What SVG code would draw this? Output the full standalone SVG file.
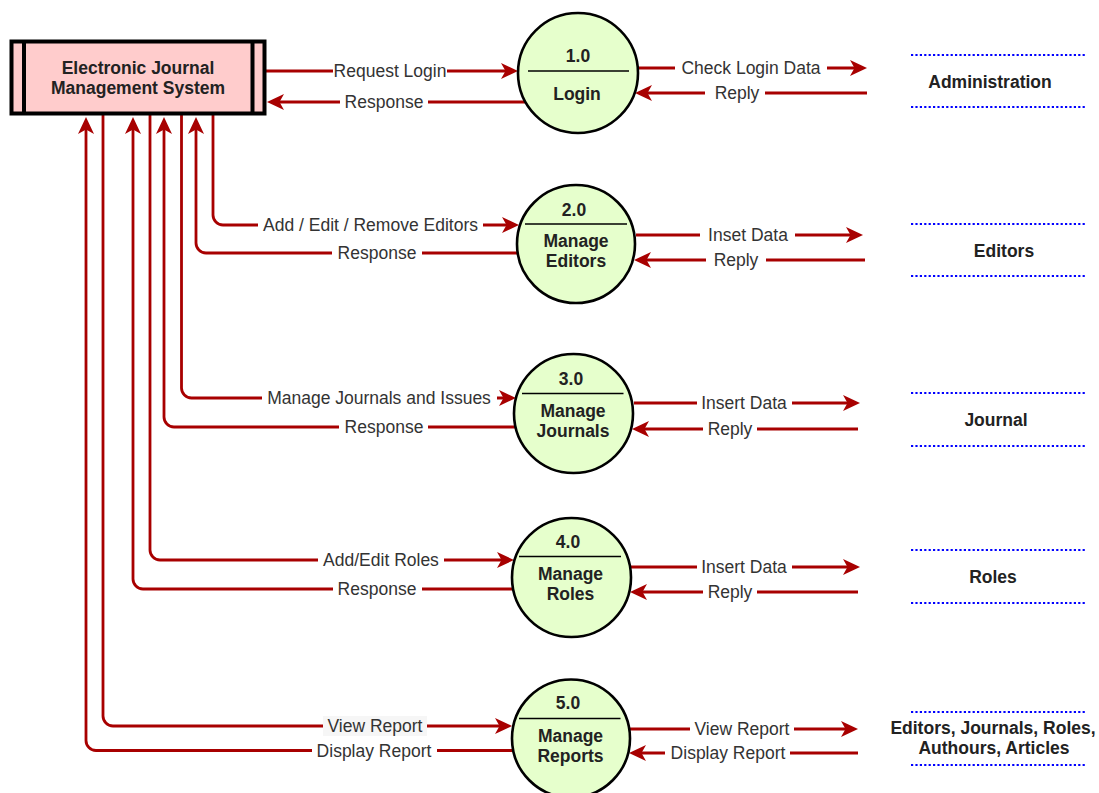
<svg xmlns="http://www.w3.org/2000/svg" width="1099" height="793" viewBox="0 0 1099 793">
  <style>
    .flow { fill: none; stroke: #a80000; stroke-width: 2.8; }
    .arrow { marker-end: url(#arr); }
    .bg { fill: #ffffff; }
    .lbl { font-family: "Liberation Sans", Arial, Helvetica, sans-serif; font-size: 17.5px; fill: #333333; text-anchor: middle; }
    .nt { font-family: "Liberation Sans", Arial, Helvetica, sans-serif; font-size: 17.5px; font-weight: bold; fill: #222222; text-anchor: middle; }
    .proc { fill: #e6ffcc; stroke: #000000; stroke-width: 2.6; }
    .div { stroke: #000000; stroke-width: 1.6; }
    .store { stroke: #0000ff; stroke-width: 2.2; stroke-dasharray: 2.2 2.2; fill: none; }
  </style>
  <defs>
    <marker id="arr" markerUnits="userSpaceOnUse" markerWidth="18" markerHeight="18" viewBox="0 0 18 18" refX="9" refY="8" orient="auto" overflow="visible">
      <path d="M0,0 L17,8 L0,16 L4.5,8 Z" fill="#a80000"/>
    </marker>
  </defs>

  <rect width="1099" height="793" fill="#ffffff"/>

  <!-- data flows -->
  <g id="connectors">
    <!-- 1.0 Login -->
    <path class="flow arrow" d="M266,71 H510"/>
    <path class="flow arrow" d="M525,102 H275"/>
    <path class="flow arrow" d="M637,68 H859"/>
    <path class="flow arrow" d="M867,93 H643"/>
    <!-- 2.0 Manage Editors -->
    <path class="flow arrow" d="M213,114 V215 A10,10 0 0 0 223,225 H511"/>
    <path class="flow arrow" d="M517,253 H206 A10,10 0 0 1 196,243 V125"/>
    <path class="flow arrow" d="M636,235 H855"/>
    <path class="flow arrow" d="M865,260 H642"/>
    <!-- 3.0 Manage Journals -->
    <path class="flow arrow" d="M181.5,114 V388 A10,10 0 0 0 191.5,398 H508"/>
    <path class="flow arrow" d="M516,427 H174 A10,10 0 0 1 164,417 V125"/>
    <path class="flow arrow" d="M634,403 H852"/>
    <path class="flow arrow" d="M858,429 H640"/>
    <!-- 4.0 Manage Roles -->
    <path class="flow arrow" d="M150,114 V550 A10,10 0 0 0 160,560 H506"/>
    <path class="flow arrow" d="M513,589 H143 A10,10 0 0 1 133,579 V125"/>
    <path class="flow arrow" d="M631,567 H852"/>
    <path class="flow arrow" d="M858,592 H638"/>
    <!-- 5.0 Manage Reports -->
    <path class="flow arrow" d="M103,114 V716 A10,10 0 0 0 113,726 H504"/>
    <path class="flow arrow" d="M512,750.5 H96 A10,10 0 0 1 86,740.5 V125"/>
    <path class="flow arrow" d="M630,729 H850"/>
    <path class="flow arrow" d="M858,753 H637"/>

    <!-- flow labels -->
    <rect class="bg" x="333" y="62" width="114" height="18"/>
    <text class="lbl" x="390" y="77">Request Login</text>
    <rect class="bg" x="340" y="93" width="88" height="18"/>
    <text class="lbl" x="384" y="108">Response</text>
    <rect class="bg" x="675" y="59" width="152" height="18"/>
    <text class="lbl" x="751" y="74">Check Login Data</text>
    <rect class="bg" x="705" y="84" width="60" height="18"/>
    <text class="lbl" x="737" y="99">Reply</text>

    <rect class="bg" x="258" y="216" width="225" height="18"/>
    <text class="lbl" x="370.5" y="231">Add / Edit / Remove Editors</text>
    <rect class="bg" x="332" y="244" width="90" height="18"/>
    <text class="lbl" x="377" y="259">Response</text>
    <rect class="bg" x="700" y="226" width="95" height="18"/>
    <text class="lbl" x="748" y="241">Inset Data</text>
    <rect class="bg" x="706" y="251" width="60" height="18"/>
    <text class="lbl" x="736" y="266">Reply</text>

    <rect class="bg" x="262" y="389" width="235" height="18"/>
    <text class="lbl" x="379" y="404">Manage Journals and Issues</text>
    <rect class="bg" x="339" y="418" width="89" height="18"/>
    <text class="lbl" x="384" y="433">Response</text>
    <rect class="bg" x="697" y="394" width="95" height="18"/>
    <text class="lbl" x="744" y="409">Insert Data</text>
    <rect class="bg" x="703" y="420" width="54" height="18"/>
    <text class="lbl" x="730" y="435">Reply</text>

    <rect class="bg" x="318" y="551" width="126" height="18"/>
    <text class="lbl" x="381" y="566">Add/Edit Roles</text>
    <rect class="bg" x="333" y="580" width="89" height="18"/>
    <text class="lbl" x="377" y="595">Response</text>
    <rect class="bg" x="697" y="558" width="95" height="18"/>
    <text class="lbl" x="744" y="573">Insert Data</text>
    <rect class="bg" x="703" y="583" width="54" height="18"/>
    <text class="lbl" x="730" y="598">Reply</text>

    <rect x="323" y="716" width="104" height="20" fill="#f6f6f6"/>
    <text class="lbl" x="375" y="732">View Report</text>
    <rect class="bg" x="312" y="741.5" width="125" height="18"/>
    <text class="lbl" x="374" y="756.5">Display Report</text>
    <rect class="bg" x="690" y="720" width="104" height="18"/>
    <text class="lbl" x="742" y="735">View Report</text>
    <rect class="bg" x="665" y="744" width="125" height="18"/>
    <text class="lbl" x="728" y="759">Display Report</text>
  </g>

  <!-- external entity -->
  <g id="ejms">
    <rect x="11.5" y="41.5" width="253" height="72" fill="#ffcccc" stroke="#000000" stroke-width="4"/>
    <line x1="24" y1="41.5" x2="24" y2="113.5" stroke="#000000" stroke-width="4"/>
    <line x1="252.5" y1="41.5" x2="252.5" y2="113.5" stroke="#000000" stroke-width="4"/>
    <text class="nt" x="138" y="74">Electronic Journal</text>
    <text class="nt" x="138" y="94">Management System</text>
  </g>

  <!-- processes -->
  <g id="p1">
    <circle class="proc" cx="578" cy="73" r="60"/>
    <line class="div" x1="528" y1="71" x2="629" y2="71"/>
    <text class="nt" x="578" y="62">1.0</text>
    <text class="nt" x="577" y="100">Login</text>
  </g>
  <g id="p2">
    <circle class="proc" cx="576" cy="244" r="59"/>
    <line class="div" x1="525" y1="224" x2="627" y2="224"/>
    <text class="nt" x="574" y="216">2.0</text>
    <text class="nt" x="576" y="247">Manage</text>
    <text class="nt" x="576" y="267">Editors</text>
  </g>
  <g id="p3">
    <circle class="proc" cx="573.5" cy="413.5" r="59.5"/>
    <line class="div" x1="522" y1="393.5" x2="623.5" y2="393.5"/>
    <text class="nt" x="571" y="385">3.0</text>
    <text class="nt" x="573" y="417">Manage</text>
    <text class="nt" x="573" y="437">Journals</text>
  </g>
  <g id="p4">
    <circle class="proc" cx="571.5" cy="577.5" r="59.5"/>
    <line class="div" x1="519" y1="556.5" x2="621" y2="556.5"/>
    <text class="nt" x="568" y="548">4.0</text>
    <text class="nt" x="570.5" y="580">Manage</text>
    <text class="nt" x="570.5" y="600">Roles</text>
  </g>
  <g id="p5">
    <circle class="proc" cx="571" cy="738.5" r="59"/>
    <line class="div" x1="519" y1="718.5" x2="620.5" y2="718.5"/>
    <text class="nt" x="568" y="709">5.0</text>
    <text class="nt" x="570.5" y="742">Manage</text>
    <text class="nt" x="570.5" y="762">Reports</text>
  </g>

  <!-- data stores -->
  <g id="ds-administration">
    <line class="store" x1="911" y1="55" x2="1085" y2="55"/>
    <line class="store" x1="911" y1="107" x2="1085" y2="107"/>
    <text class="nt" x="990" y="88">Administration</text>
  </g>
  <g id="ds-editors">
    <line class="store" x1="911" y1="224" x2="1085" y2="224"/>
    <line class="store" x1="911" y1="276" x2="1085" y2="276"/>
    <text class="nt" x="1004" y="257">Editors</text>
  </g>
  <g id="ds-journal">
    <line class="store" x1="911" y1="393" x2="1085" y2="393"/>
    <line class="store" x1="911" y1="446" x2="1085" y2="446"/>
    <text class="nt" x="996" y="426">Journal</text>
  </g>
  <g id="ds-roles">
    <line class="store" x1="911" y1="550" x2="1085" y2="550"/>
    <line class="store" x1="911" y1="603" x2="1085" y2="603"/>
    <text class="nt" x="993" y="583">Roles</text>
  </g>
  <g id="ds-all">
    <line class="store" x1="911" y1="712" x2="1085" y2="712"/>
    <line class="store" x1="911" y1="765" x2="1085" y2="765"/>
    <text class="nt" x="993" y="734">Editors, Journals, Roles,</text>
    <text class="nt" x="994" y="754">Authours, Articles</text>
  </g>
</svg>
